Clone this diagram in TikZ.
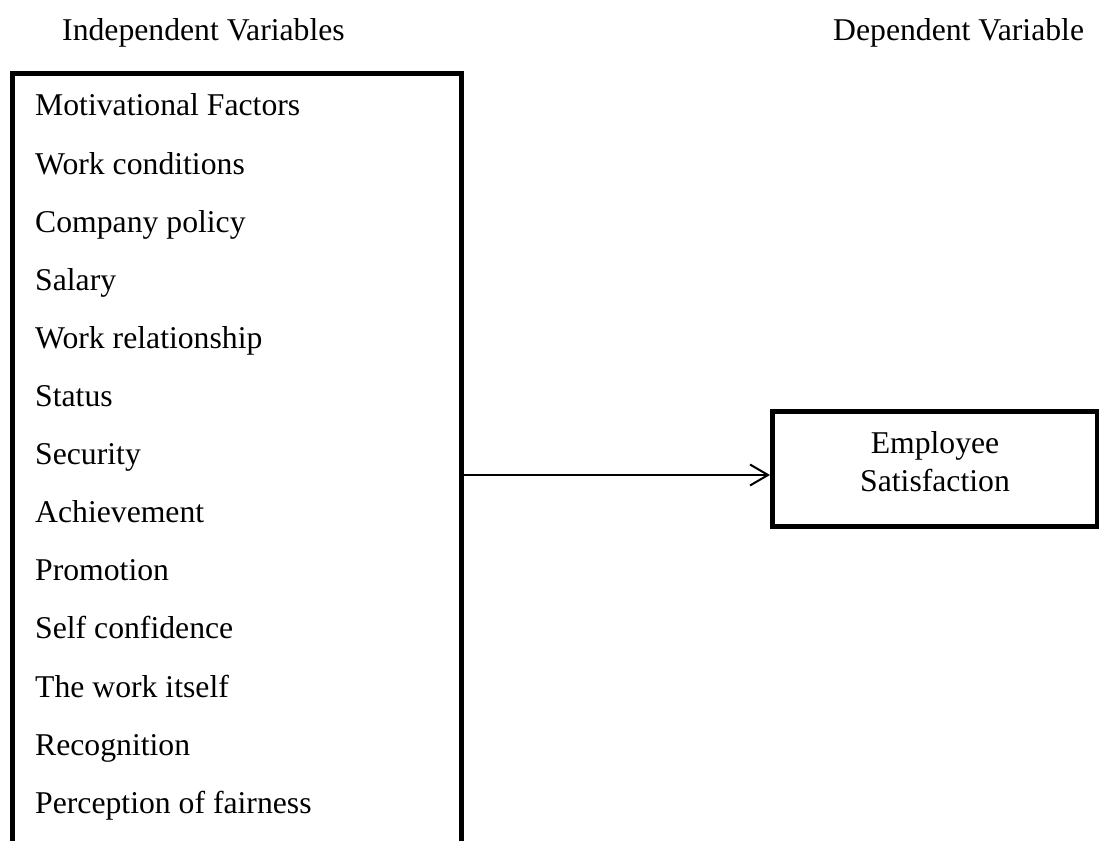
\documentclass[tikz,border=0pt]{standalone}
\usepackage{fontspec}
\setmainfont{Liberation Serif}
\usetikzlibrary{arrows.meta}
\tikzset{
  frame/.style={draw=black, line width=5pt, outer sep=0pt, inner sep=0pt},
  label text/.style={font=\fontsize{31.7pt}{38pt}\selectfont, inner sep=0pt, anchor=base west},
  centre text/.style={font=\fontsize{31.7pt}{38pt}\selectfont, inner sep=0pt, anchor=base},
  link/.style={line width=2pt, -{Straight Barb[length=18pt,width=21pt]}, shorten >=2.5pt}
}
\begin{document}
\begin{tikzpicture}[x=1pt, y=-1pt]
  \useasboundingbox (0,0) rectangle (1099,840);
  \clip (0,0) rectangle (1099,840);

  % column headings
  \node[label text] (hind) at (62,41) {Independent Variables};
  \node[label text] (hdep) at (833,41) {Dependent Variable};

  % box of independent variables (runs past the lower edge)
  \node[frame, minimum width=449pt, minimum height=820pt, anchor=north west] (lbox) at (12.5,74) {};

  \foreach \t [count=\k from 0] in {Motivational Factors, Work conditions, Company policy,
      Salary, Work relationship, Status, Security, Achievement, Promotion,
      Self confidence, The work itself, Recognition, Perception of fairness}
    \node[label text] (item\k) at (35,116+58.1*\k) {\t};

  % box of the dependent variable
  \node[frame, minimum width=325pt, minimum height=115pt, anchor=north west] (rbox) at (772.5,411) {};
  \node[centre text] (emp) at (935,453) {Employee};
  \node[centre text] (sat) at (935,491) {Satisfaction};

  % relation between the two boxes
  \coordinate (lvl) at (0,475);
  \draw[link] (lbox.east |- lvl) -- (rbox.west |- lvl);
\end{tikzpicture}
\end{document}
